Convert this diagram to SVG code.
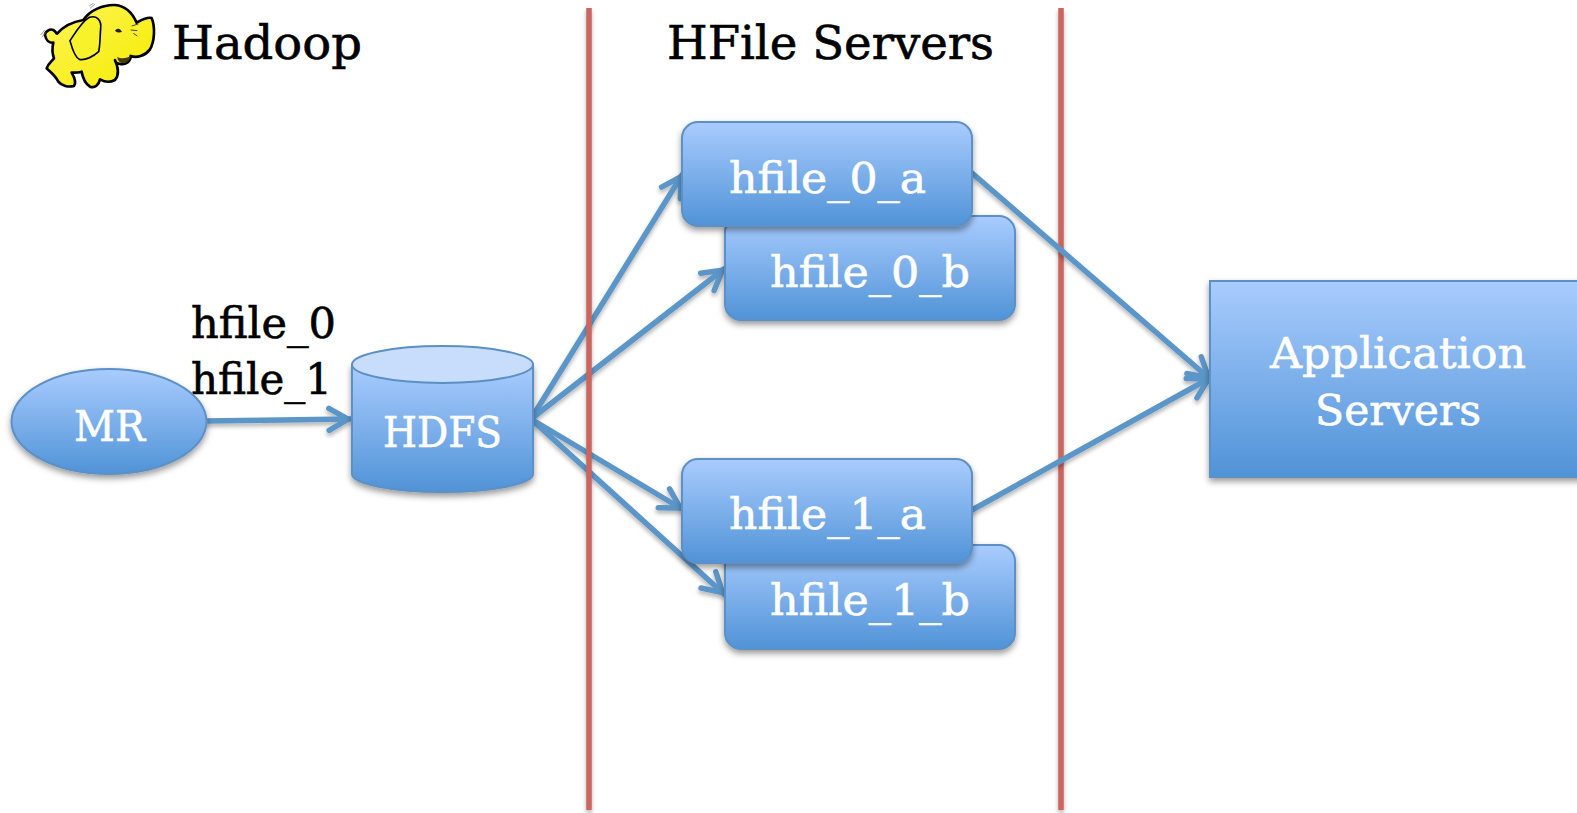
<svg xmlns="http://www.w3.org/2000/svg" width="1577" height="813" viewBox="0 0 1577 813">
<style>
.t{font-family:"DejaVu Serif","Liberation Serif",serif}
.k{fill:#000;stroke:#000;stroke-width:.6;font-size:42px}
.w{fill:#fff;stroke:#fff;stroke-width:.6;font-size:42px}
.n{fill:url(#g);stroke:#5b90c6;stroke-width:2;filter:url(#s)}
.c{fill:none;stroke:#5b96c8;stroke-width:5.5;stroke-linecap:round;marker-end:url(#a)}
.r{stroke:#c9665e;stroke-width:5.500;fill:none}
</style>
<defs>
<linearGradient id="g" x1="0" y1="0" x2="0" y2="1"><stop offset="0" stop-color="#a9ccfe"/><stop offset="1" stop-color="#5093d7"/></linearGradient>
<linearGradient id="e" x1="0" y1="0" x2="1" y2="1"><stop offset="0" stop-color="#fff45a"/><stop offset="1" stop-color="#f4ec00"/></linearGradient>
<filter id="s" x="-10%" y="-10%" width="120%" height="125%"><feDropShadow dx="0" dy="3.500" stdDeviation="3" flood-color="#000" flood-opacity=".4"/></filter>
<filter id="l" x="-10%" y="-10%" width="120%" height="120%"><feDropShadow dx="0" dy="3" stdDeviation="2" flood-color="#000" flood-opacity=".3"/></filter>
<marker id="a" markerUnits="userSpaceOnUse" markerWidth="32" markerHeight="36" viewBox="-26 -18 32 36" refX="2" refY="0" orient="auto"><path d="M-19,-11 L0,0 L-19,11" fill="none" stroke="#5b96c8" stroke-width="5.500" stroke-linecap="round" stroke-linejoin="round"/></marker>
</defs>
<rect width="1577" height="813" fill="#fff"/>
<g id="connectors-left" filter="url(#l)">
<path class="c" d="M206,421 L350,419"/>
<path class="c" d="M531,419 L682,175"/>
<path class="c" d="M531,419 L724,269"/>
<path class="c" d="M531,419 L682,509"/>
<path class="c" d="M531,419 L724,594"/>
</g>
<g id="dividers" filter="url(#l)">
<line class="r" x1="589" y1="8" x2="589" y2="810"/>
<line class="r" x1="1061" y1="8" x2="1061" y2="810"/>
</g>
<g id="connectors-right" filter="url(#l)">
<path class="c" d="M972,173 L1210,379"/>
<path class="c" d="M972,510 L1210,378"/>
</g>
<g id="hadoop-logo" transform="scale(.3333)">
<path d="M250,60 C270,30 310,14 345,15 C380,18 400,45 410,68 C425,60 440,50 455,54 C466,80 464,125 450,148 C435,168 410,175 392,168 C392,185 378,195 360,192 C350,190 345,185 345,180 C356,205 358,225 345,240 C330,248 312,245 300,238 C296,255 285,265 270,260 C255,250 248,232 245,215 C235,218 225,218 215,218 C225,235 228,250 222,258 C205,262 185,258 175,245 C165,225 150,215 140,205 C145,190 155,185 162,175 C155,155 157,140 160,128 C148,130 138,120 135,105 C135,95 150,85 160,90 C170,95 168,103 172,100 C190,80 220,65 250,60 Z" fill="url(#e)" stroke="#000" stroke-width="8" stroke-linejoin="round"/>
<path d="M268,52 C290,45 305,60 302,85 C300,115 300,140 296,155 C280,170 255,182 238,178 C222,170 215,140 210,122 C225,100 245,65 268,52 Z" fill="#f8f22a" stroke="#000" stroke-width="5" stroke-linejoin="round"/>
<path d="M345,92 C352,82 362,85 366,96 C358,98 350,98 345,92 Z" fill="#222"/>
<path d="M395,78 L415,72 M392,90 L412,92 M400,100 L412,108" stroke="#222" stroke-width="2.500" fill="none"/>
<path d="M352,170 C365,180 385,172 392,168 C390,185 375,192 362,188 C356,185 352,178 352,170 Z" fill="#4a3a10"/>
<path d="M270,25 L285,12 M268,18 L280,10 M122,105 L134,90 M126,112 L138,96" stroke="#666" stroke-width="2" fill="none"/>
</g>
<g id="label-hadoop"><text class="t k" x="172" y="59" style="font-size:46px" textLength="190" lengthAdjust="spacingAndGlyphs">Hadoop</text></g>
<g id="label-hfile-servers"><text class="t k" x="667" y="59" style="font-size:46px" textLength="327" lengthAdjust="spacingAndGlyphs">HFile Servers</text></g>
<g id="label-files">
<text class="t k" x="191" y="338" textLength="145" lengthAdjust="spacingAndGlyphs">hfile_0</text>
<text class="t k" x="191" y="394" textLength="141" lengthAdjust="spacingAndGlyphs">hfile_1</text>
</g>
<g id="mr"><ellipse class="n" cx="109" cy="421.5" rx="97.5" ry="52.5"/><text class="t w" x="74" y="441" textLength="71" lengthAdjust="spacingAndGlyphs">MR</text></g>
<g id="hdfs">
<path class="n" d="M352,364.5 L352,474 A90.500,18 0 0 0 533,474 L533,364.5 Z"/>
<ellipse cx="442.500" cy="364.5" rx="90.500" ry="18.500" fill="#c8ddfb" stroke="#5b90c6" stroke-width="2"/>
<text class="t w" x="383" y="447" textLength="119" lengthAdjust="spacingAndGlyphs">HDFS</text>
</g>
<g id="hfile_0_b"><rect class="n" x="725" y="216" width="290" height="104" rx="16"/><text class="t w" x="770" y="287" textLength="200" lengthAdjust="spacingAndGlyphs">hfile_0_b</text></g>
<g id="hfile_0_a"><rect class="n" x="682" y="122" width="290" height="104" rx="16"/><text class="t w" x="729" y="193" textLength="197" lengthAdjust="spacingAndGlyphs">hfile_0_a</text></g>
<g id="hfile_1_b"><rect class="n" x="725" y="545" width="290" height="104" rx="16"/><text class="t w" x="770" y="615" textLength="200" lengthAdjust="spacingAndGlyphs">hfile_1_b</text></g>
<g id="hfile_1_a"><rect class="n" x="682" y="459" width="290" height="104" rx="16"/><text class="t w" x="729" y="529" textLength="197" lengthAdjust="spacingAndGlyphs">hfile_1_a</text></g>
<g id="application-servers"><rect class="n" x="1210" y="281" width="400" height="196"/><text class="t w" x="1270" y="368" textLength="256" lengthAdjust="spacingAndGlyphs">Application</text><text class="t w" x="1315" y="425" textLength="166" lengthAdjust="spacingAndGlyphs">Servers</text></g>
</svg>
